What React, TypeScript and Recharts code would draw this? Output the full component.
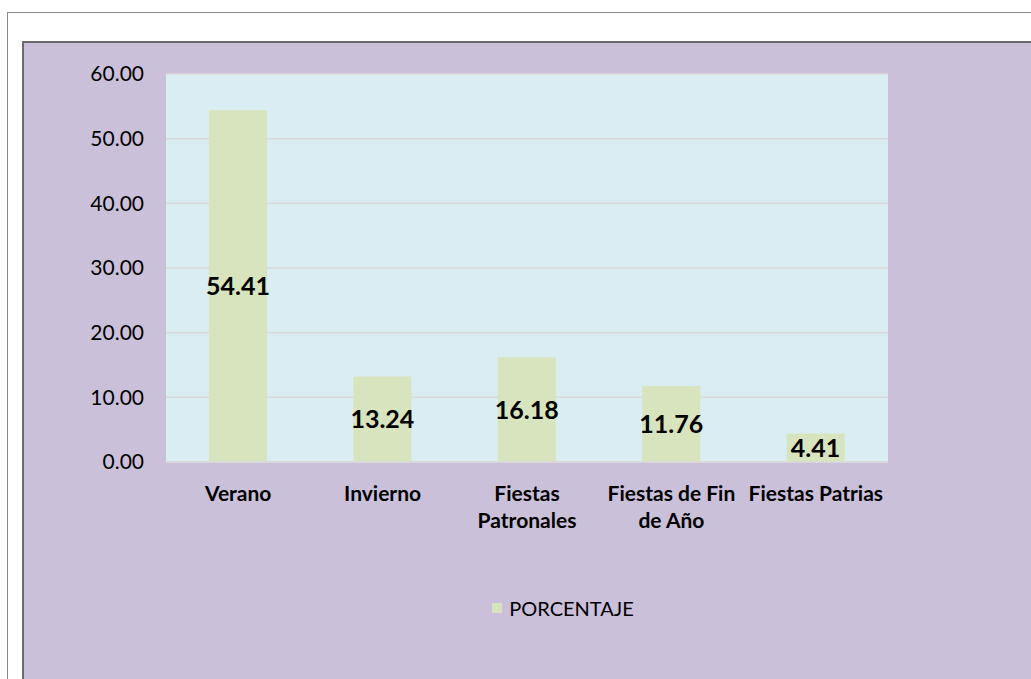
import React from 'react';
import { BarChart, Bar, XAxis, YAxis, CartesianGrid, LabelList, Legend } from 'recharts';

const categories = ['Verano', 'Invierno', 'Fiestas Patronales', 'Fiestas de Fin de Año', 'Fiestas Patrias'];
const porcentaje = [54.41, 13.24, 16.18, 11.76, 4.41];
const yTicks = [0, 10, 20, 30, 40, 50, 60];

const data = categories.map((name, i) => ({ name, PORCENTAJE: porcentaje[i] }));

const FONT = 'Lato, "Open Sans", sans-serif';
const BAR_COLOR = '#D7E4BD';
const TICK_FONT = `700 21px ${FONT}`;

// greedy word wrap using canvas text metrics
let ctx: CanvasRenderingContext2D | null = null;
const measure = (s: string) => {
    if (!ctx) ctx = document.createElement('canvas').getContext('2d');
    if (!ctx) return s.length * 10;
    ctx.font = TICK_FONT;
    return ctx.measureText(s).width;
};
const wrap = (label: string, maxWidth: number) => {
    const words = label.split(' ');
    const lines: string[] = [];
    let cur = '';
    words.forEach(w => {
        const next = cur ? cur + ' ' + w : w;
        if (cur && measure(next) > maxWidth) {
            lines.push(cur);
            cur = w;
        } else {
            cur = next;
        }
    });
    if (cur) lines.push(cur);
    return lines;
};

const CategoryTick = (props: any) => {
    const { x, y, payload } = props;
    const lines = wrap(String(payload.value), 144);
    return (
        <text x={x} y={y + 31} textAnchor="middle" fontFamily={FONT} fontWeight={700} fontSize={21} fill="#000">
            {lines.map((l, i) => (
                <tspan key={i} x={x} dy={i === 0 ? 0 : 27}>{l}</tspan>
            ))}
        </text>
    );
};

const LegendBox = () => (
    <div style={{ height: 24, display: 'flex', alignItems: 'center', justifyContent: 'center', paddingLeft: 214, fontFamily: FONT, fontSize: 20, color: '#000' }}>
        <span style={{ width: 10, height: 10, background: BAR_COLOR, display: 'inline-block', marginRight: 7 }} />
        <span>PORCENTAJE</span>
    </div>
);

export default function App() {
    return (
        <div style={{ position: 'absolute', left: 0, top: 0, width: 1031, height: 679, background: '#fff', overflow: 'hidden' }}>
            <div style={{ position: 'absolute', left: 7, top: 12, width: 1100, height: 800, border: '1px solid #8a8a8a', boxSizing: 'border-box' }} />
            <div style={{ position: 'absolute', left: 22, top: 41, width: 1100, height: 800, background: '#CBC0DA', borderTop: '2px solid #6b6b6b', borderLeft: '2px solid #6b6b6b' }}>
                <BarChart
                    width={1008}
                    height={637}
                    data={data}
                    margin={{ top: 31, right: 144, bottom: 60, left: 0 }}
                    barSize={58}
                >
                    <CartesianGrid vertical={false} stroke="#D9D9D9" strokeWidth={1.5} fill="#DAEDF2" />
                    <XAxis
                        dataKey="name"
                        height={134}
                        interval={0}
                        tickLine={false}
                        axisLine={{ stroke: '#D9D9D9', strokeWidth: 1.5 }}
                        tick={<CategoryTick />}
                    />
                    <YAxis
                        width={142}
                        domain={[0, 60]}
                        ticks={yTicks}
                        tickFormatter={(v: number) => v.toFixed(2)}
                        axisLine={false}
                        tickLine={false}
                        tickSize={0}
                        tickMargin={22}
                        tick={{ fill: '#000', fontSize: 21, fontFamily: FONT }}
                    />
                    <Legend verticalAlign="bottom" content={<LegendBox />} />
                    <Bar dataKey="PORCENTAJE" fill={BAR_COLOR} isAnimationActive={false}>
                        <LabelList
                            dataKey="PORCENTAJE"
                            position="center"
                            formatter={(v: any) => Number(v).toFixed(2)}
                            fill="#000"
                            fontSize={25}
                            fontWeight={700}
                            fontFamily={FONT}
                        />
                    </Bar>
                </BarChart>
            </div>
        </div>
    );
}
